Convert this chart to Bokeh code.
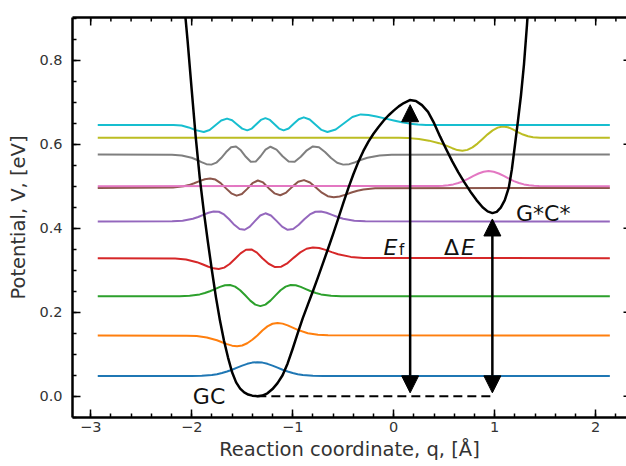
import math
from bokeh.plotting import figure
from bokeh.models import (Range1d, LinearAxis, SingleIntervalTicker, FixedTicker,
                          NumeralTickFormatter, Arrow, NormalHead)
from bokeh.core.properties import value
from bokeh.embed import file_html
from bokeh.resources import INLINE

# ---------------- data ----------------
pot_q = [-2.08, -2.04, -2.00, -1.96, -1.92, -1.88, -1.84, -1.80, -1.76, -1.72, -1.68, -1.64,
         -1.60, -1.56, -1.52, -1.48, -1.44, -1.40, -1.35, -1.30, -1.25, -1.20, -1.15, -1.10,
         -1.05, -1.00, -0.95, -0.90, -0.85, -0.80, -0.75, -0.70, -0.65, -0.60, -0.55, -0.50,
         -0.45, -0.40, -0.35, -0.30, -0.25, -0.20, -0.15, -0.10, -0.05, 0.00, 0.05, 0.10,
         0.16, 0.22, 0.28, 0.34, 0.40, 0.46, 0.52, 0.58, 0.64, 0.70, 0.76, 0.82, 0.88, 0.93,
         0.977, 1.02, 1.06, 1.10, 1.14, 1.17, 1.20, 1.23, 1.26, 1.29, 1.32, 1.35]
pot_V = [0.95, 0.845, 0.73, 0.617, 0.52, 0.44, 0.368, 0.30, 0.236, 0.18, 0.132, 0.092,
         0.057, 0.033, 0.018, 0.009, 0.004, 0.0013, 0.0, 0.0015, 0.007, 0.017, 0.031, 0.050,
         0.078, 0.113, 0.150, 0.186, 0.218, 0.250, 0.283, 0.317, 0.351, 0.386, 0.422, 0.459,
         0.495, 0.528, 0.558, 0.584, 0.606, 0.625, 0.641, 0.656, 0.669, 0.680, 0.690, 0.698,
         0.705, 0.703, 0.693, 0.677, 0.650, 0.618, 0.588, 0.559, 0.533, 0.509, 0.487, 0.467,
         0.450, 0.440, 0.436, 0.439, 0.449, 0.467, 0.497, 0.540, 0.597, 0.655, 0.716, 0.79,
         0.885, 0.99]

wf0_q = [-2.93, -2.0, -1.9, -1.8, -1.75, -1.7, -1.65, -1.6, -1.55, -1.5, -1.45, -1.4, -1.35,
         -1.3, -1.25, -1.2, -1.15, -1.1, -1.05, -1.0, -0.95, -0.9, -0.8, -0.7, 2.14]
wf0_V = [0.048, 0.048, 0.0487, 0.0506, 0.0525, 0.0551, 0.0587, 0.0631, 0.068, 0.0729, 0.0771,
         0.080, 0.081, 0.080, 0.0771, 0.0729, 0.068, 0.0631, 0.0587, 0.0551, 0.0525, 0.0506,
         0.0487, 0.048, 0.048]

wf1_q = [-2.93, -2.05, -1.95, -1.85, -1.75, -1.70, -1.65, -1.60, -1.55, -1.50, -1.45, -1.40,
         -1.35, -1.30, -1.25, -1.20, -1.15, -1.10, -1.05, -1.00, -0.95, -0.85, -0.75, -0.65, 2.14]
wf1_V = [0.1445, 0.1442, 0.1431, 0.1399, 0.1331, 0.1286, 0.1240, 0.1204, 0.1190, 0.1207,
         0.1260, 0.1343, 0.1445, 0.1565, 0.1663, 0.1725, 0.1745, 0.1728, 0.1686, 0.1632,
         0.1579, 0.1499, 0.1462, 0.1449, 0.1445]

wf2_q = [-2.93, -2.12, -2.02, -1.92, -1.87, -1.82, -1.77, -1.72, -1.67, -1.62, -1.57, -1.52,
         -1.47, -1.42, -1.37, -1.32, -1.27, -1.22, -1.17, -1.12, -1.07, -1.02, -0.97, -0.92,
         -0.87, -0.82, -0.77, -0.72, -0.62, -0.52, 2.14]
wf2_V = [0.238, 0.2382, 0.2392, 0.2424, 0.2456, 0.2499, 0.2551, 0.2603, 0.2641, 0.2647, 0.2609,
         0.2523, 0.2402, 0.2276, 0.2181, 0.2145, 0.2181, 0.2276, 0.2402, 0.2523, 0.2609, 0.2647,
         0.2641, 0.2603, 0.2551, 0.2499, 0.2456, 0.2424, 0.2392, 0.2382, 0.238]

wf3_q = [-2.93, -2.164, -2.056, -1.948, -1.894, -1.840, -1.786, -1.732, -1.678, -1.624, -1.570,
         -1.516, -1.462, -1.408, -1.354, -1.300, -1.238, -1.175, -1.113, -1.050, -0.988, -0.925,
         -0.863, -0.800, -0.738, -0.675, -0.613, -0.550, -0.425, -0.300, 2.14]
wf3_V = [0.3286, 0.3279, 0.3255, 0.3191, 0.3142, 0.3088, 0.3044, 0.3029, 0.3061, 0.3147, 0.3272,
         0.3401, 0.3488, 0.3496, 0.3418, 0.3286, 0.3154, 0.3076, 0.3084, 0.3171, 0.3300, 0.3425,
         0.3511, 0.3543, 0.3528, 0.3484, 0.3430, 0.3381, 0.3317, 0.3293, 0.3286]

wf4_q = [-2.93, -2.193, -2.090, -1.988, -1.936, -1.885, -1.834, -1.783, -1.731, -1.680, -1.629,
         -1.578, -1.526, -1.475, -1.424, -1.372, -1.321, -1.270, -1.215, -1.160, -1.105, -1.050,
         -0.995, -0.940, -0.885, -0.830, -0.775, -0.720, -0.665, -0.610, -0.555, -0.500, -0.390,
         -0.280, 2.14]
wf4_V = [0.416, 0.4164, 0.4178, 0.4225, 0.4267, 0.4318, 0.4369, 0.4400, 0.4392, 0.4327, 0.4213,
         0.4081, 0.3982, 0.3963, 0.4038, 0.4174, 0.4303, 0.4355, 0.4303, 0.4174, 0.4038, 0.3963,
         0.3982, 0.4081, 0.4213, 0.4327, 0.4392, 0.4400, 0.4369, 0.4318, 0.4267, 0.4225, 0.4178,
         0.4164, 0.416]

wf5_q = [-2.93, -2.185, -2.080, -2.028, -1.975, -1.923, -1.870, -1.818, -1.765, -1.713, -1.660,
         -1.608, -1.555, -1.503, -1.450, -1.398, -1.345, -1.293, -1.240, -1.181, -1.123, -1.064,
         -1.005, -0.946, -0.888, -0.829, -0.770, -0.711, -0.653, -0.594, -0.535, -0.476, -0.418,
         -0.359, -0.300, -0.183, 2.14]
wf5_V = [0.496, 0.4969, 0.4998, 0.5027, 0.5071, 0.5121, 0.5167, 0.5183, 0.5158, 0.5074, 0.4949,
         0.4831, 0.4775, 0.4815, 0.4936, 0.5071, 0.5136, 0.5090, 0.4960, 0.4830, 0.4784, 0.4849,
         0.4984, 0.5105, 0.5145, 0.5089, 0.4971, 0.4846, 0.4762, 0.4737, 0.4754, 0.4799, 0.4849,
         0.4893, 0.4922, 0.4951, 0.496]

wf6_q = [-2.93, 0.44, 0.49, 0.54, 0.59, 0.64, 0.69, 0.74, 0.79, 0.84, 0.89, 0.94, 0.99, 1.04,
         1.09, 1.14, 1.19, 1.24, 1.29, 1.34, 1.39, 1.44, 2.14]
wf6_V = [0.500, 0.5005, 0.5011, 0.5023, 0.5043, 0.5076, 0.5122, 0.5180, 0.5244, 0.5303, 0.5345,
         0.5360, 0.5345, 0.5303, 0.5244, 0.5180, 0.5122, 0.5076, 0.5043, 0.5023, 0.5011, 0.5005,
         0.500]

wf7_q = [-2.93, -2.195, -2.098, -2.000, -1.951, -1.903, -1.854, -1.805, -1.756, -1.708, -1.659,
         -1.610, -1.561, -1.513, -1.464, -1.415, -1.366, -1.318, -1.269, -1.220, -1.160, -1.100,
         -1.040, -0.980, -0.920, -0.860, -0.800, -0.740, -0.680, -0.620, -0.560, -0.500, -0.440,
         -0.380, -0.320, -0.260, -0.140, -0.020, 2.14]
wf7_V = [0.5755, 0.5751, 0.5733, 0.5677, 0.5630, 0.5572, 0.5525, 0.5514, 0.5560, 0.5670, 0.5813,
         0.5927, 0.5947, 0.5855, 0.5701, 0.5583, 0.5587, 0.5713, 0.5870, 0.5940, 0.5870, 0.5713,
         0.5587, 0.5583, 0.5701, 0.5855, 0.5947, 0.5927, 0.5813, 0.5670, 0.5560, 0.5514, 0.5525,
         0.5572, 0.5630, 0.5677, 0.5733, 0.5751, 0.5755]

wf8_q = [-2.93, 0.05, 0.15, 0.25, 0.35, 0.45, 0.52, 0.58, 0.63, 0.68, 0.73, 0.78, 0.83, 0.88,
         0.93, 0.98, 1.03, 1.08, 1.13, 1.18, 1.23, 1.28, 1.33, 1.38, 1.45, 1.55, 2.14]
wf8_V = [0.6152, 0.6152, 0.6145, 0.6125, 0.6085, 0.6025, 0.5965, 0.5905, 0.5860, 0.5845, 0.5865,
         0.5925, 0.6015, 0.6125, 0.6235, 0.6330, 0.6395, 0.6420, 0.6405, 0.6355, 0.6290, 0.6230,
         0.6190, 0.6168, 0.6156, 0.6152, 0.6152]

wf9_q = [-2.93, -2.18, -2.10, -2.03, -1.96, -1.88, -1.8225, -1.765, -1.7075, -1.65, -1.60, -1.55,
         -1.50, -1.45, -1.405, -1.36, -1.315, -1.27, -1.225, -1.18, -1.135, -1.09, -1.04, -0.99,
         -0.94, -0.89, -0.8315, -0.773, -0.7145, -0.656, -0.574, -0.4915, -0.409, -0.327, -0.25,
         -0.17, -0.09, 0.0, 0.08, 0.16, 0.24, 0.32, 2.14]
wf9_V = [0.646, 0.646, 0.6445, 0.640, 0.6335, 0.629, 0.6337, 0.645, 0.6563, 0.661, 0.6569, 0.647,
         0.6371, 0.633, 0.6372, 0.6475, 0.6578, 0.662, 0.6578, 0.6475, 0.6372, 0.633, 0.6375,
         0.6485, 0.6595, 0.664, 0.6589, 0.6465, 0.6341, 0.629, 0.6351, 0.650, 0.6649, 0.671,
         0.6695, 0.666, 0.6615, 0.6565, 0.6525, 0.649, 0.6468, 0.646, 0.646]

wf_colors = ["#1f77b4", "#ff7f0e", "#2ca02c", "#d62728", "#9467bd",
             "#8c564b", "#e377c2", "#7f7f7f", "#bcbd22", "#17becf"]

# dashed reference line at V = 0 and the two energy arrows
dash_q = [-1.35, 0.977]
dash_V = [0.0, 0.0]
ef_q, ef_lo, ef_hi = 0.163, 0.008, 0.694
de_q, de_lo, de_hi = 0.977, 0.008, 0.422

# axes
x_lo, x_hi = -3.18, 2.305
y_lo, y_hi = -0.0507, 0.9017
x_major = [-3, -2, -1, 0, 1, 2]
x_minor = [-3.0, -2.8, -2.6, -2.4, -2.2, -2.0, -1.8, -1.6, -1.4, -1.2, -1.0, -0.8, -0.6, -0.4,
           -0.2, 0.0, 0.2, 0.4, 0.6, 0.8, 1.0, 1.2, 1.4, 1.6, 1.8, 2.0, 2.2]
y_major = [0.0, 0.2, 0.4, 0.6, 0.8]
x_tick_labels = {-3: "\u22123", -2: "\u22122", -1: "\u22121", 0: "0", 1: "1", 2: "2"}

# ---------------- figure ----------------
FONT = "DejaVu Sans"
p = figure(width=626, height=466, output_backend="svg", toolbar_location=None,
           x_range=Range1d(x_lo, x_hi), y_range=Range1d(y_lo, y_hi),
           min_border_left=72, min_border_right=0, min_border_top=17, min_border_bottom=49,
           x_axis_location=None, y_axis_location=None)
p.outline_line_color = None
p.xgrid.visible = False
p.ygrid.visible = False
p.background_fill_color = "white"
p.border_fill_color = "white"

xt = SingleIntervalTicker(interval=1, num_minor_ticks=5)
yt = SingleIntervalTicker(interval=0.2, num_minor_ticks=4)

def style(ax):
    ax.axis_line_width = 2.5
    ax.axis_line_color = "black"
    ax.major_tick_line_width = 1.5
    ax.minor_tick_line_width = 1.5
    ax.major_tick_in = 8
    ax.major_tick_out = 0
    ax.minor_tick_in = 4
    ax.minor_tick_out = 0
    ax.major_label_text_font = FONT
    ax.major_label_text_color = "#333333"
    ax.axis_label_text_font = FONT
    ax.axis_label_text_font_style = "normal"
    ax.axis_label_text_color = "#333333"

xb = LinearAxis(ticker=xt, axis_label="Reaction coordinate, q, [\u00c5]")
style(xb)
xb.major_label_overrides = x_tick_labels
xb.major_label_text_font_size = "14.5px"
xb.major_label_standoff = 4
xb.axis_label_text_font_size = "19.5px"
xb.axis_label_standoff = 3
p.add_layout(xb, "below")

yl = LinearAxis(ticker=yt, axis_label="Potential, V, [eV]",
                formatter=NumeralTickFormatter(format="0.0"))
style(yl)
yl.major_label_text_font_size = "14.5px"
yl.major_label_standoff = 10
yl.axis_label_text_font_size = "19.5px"
yl.axis_label_standoff = 6
p.add_layout(yl, "left")

# top spine (no ticks/labels); top and right tick marks drawn as clipped dash markers
xa = LinearAxis(ticker=FixedTicker(ticks=[]))
style(xa)
p.add_layout(xa, "above")

p.scatter(x=x_major, y=[y_hi] * len(x_major), marker="dash", size=16, angle=math.pi / 2,
          line_color="black", line_width=1.5)
p.scatter(x=x_minor, y=[y_hi] * len(x_minor), marker="dash", size=8, angle=math.pi / 2,
          line_color="black", line_width=1.5)
p.scatter(x=[x_hi] * len(y_major), y=y_major, marker="dash", size=6,
          line_color="black", line_width=1.5)

# wavefunctions
wfs = [(wf0_q, wf0_V), (wf1_q, wf1_V), (wf2_q, wf2_V), (wf3_q, wf3_V), (wf4_q, wf4_V),
       (wf5_q, wf5_V), (wf6_q, wf6_V), (wf7_q, wf7_V), (wf8_q, wf8_V), (wf9_q, wf9_V)]
for (qq, vv), c in zip(wfs, wf_colors):
    p.line(qq, vv, line_color=c, line_width=2, line_join="round")

# potential
p.line(pot_q, pot_V, line_color="black", line_width=2.5, line_join="round")
p.line(dash_q, dash_V, line_color="black", line_width=2, line_dash="9 5")

# arrows
for xq, lo, hi in [(ef_q, ef_lo, ef_hi), (de_q, de_lo, de_hi)]:
    p.add_layout(Arrow(x_start=xq, y_start=lo, x_end=xq, y_end=hi, line_width=2.5,
                       line_color="black",
                       start=NormalHead(size=17, fill_color="black", line_color="black", line_width=1),
                       end=NormalHead(size=17, fill_color="black", line_color="black", line_width=1)))

# annotations
ann_size = "22px"
TXT = "#111111"
p.text(x=[-1.828], y=[0.0], text=["GC"], text_font=value(FONT), text_font_size=ann_size,
       text_align="center", text_baseline="alphabetic", text_color=TXT)
p.text(x=[1.48], y=[0.436], text=["G*C*"], text_font=value(FONT), text_font_size=ann_size,
       text_align="center", text_baseline="alphabetic", text_color=TXT)
p.text(x=[-0.033], y=[0.353], text=["E"], text_font=value(FONT), text_font_size=ann_size,
       text_font_style="italic", text_align="center", text_baseline="alphabetic", text_color=TXT)
p.text(x=[0.079], y=[0.349], text=["f"], text_font=value(FONT), text_font_size="15px",
       text_align="center", text_baseline="alphabetic", text_color=TXT)
p.text(x=[0.572], y=[0.353], text=["\u0394"], text_font=value(FONT), text_font_size=ann_size,
       text_align="center", text_baseline="alphabetic", text_color=TXT)
p.text(x=[0.735], y=[0.353], text=["E"], text_font=value(FONT), text_font_size=ann_size,
       text_font_style="italic", text_align="center", text_baseline="alphabetic", text_color=TXT)

open("out.html", "w").write(file_html(p, INLINE))
